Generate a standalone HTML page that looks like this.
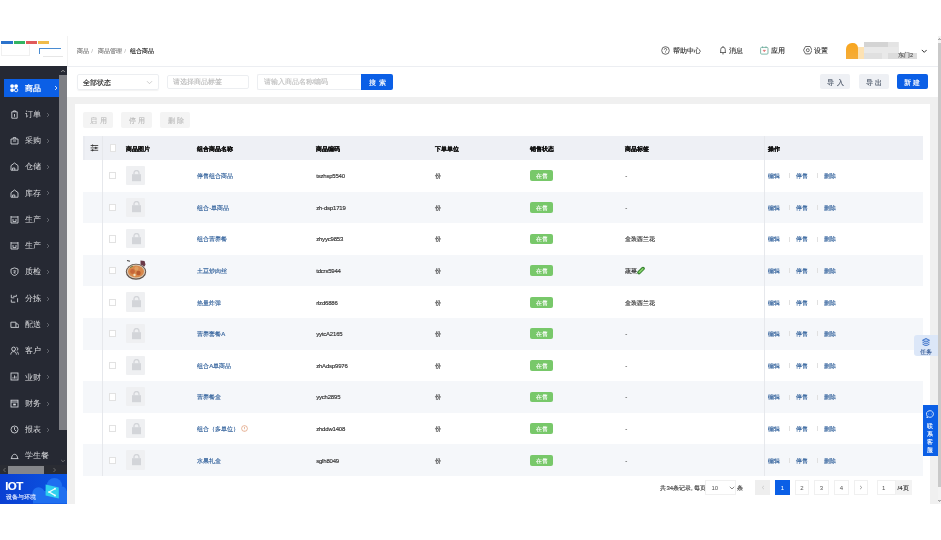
<!DOCTYPE html><html><head><meta charset="utf-8"><style>
*{box-sizing:border-box;margin:0;padding:0}
html,body{width:941px;height:540px;overflow:hidden;background:#fff;font-family:"Liberation Sans",sans-serif;}
.a{position:absolute}
svg{display:block}
.t{position:absolute;white-space:nowrap;line-height:1;-webkit-text-stroke-width:0.15px}
</style></head><body><div id="w" style="position:absolute;left:0;top:0;width:941px;height:540px;will-change:transform">
<div class="a" style="left:938.00px;top:36.00px;width:3.00px;height:468.00px;background:#f3f3f3;"></div>
<div class="a" style="left:938.20px;top:43.30px;width:2.80px;height:443.40px;background:#c9c9c9;"></div>
<svg class="a" style="left:938.00px;top:37.00px;" width="3" height="4" viewBox="0 0 3 4"><path d="M.4 3L1.5 1.6 2.6 3" fill="none" stroke="#555" stroke-width="0.7"/></svg>
<svg class="a" style="left:938.00px;top:499.00px;" width="3" height="4" viewBox="0 0 3 4"><path d="M.4 1L1.5 2.4 2.6 1" fill="none" stroke="#555" stroke-width="0.7"/></svg>
<div class="a" style="left:1.00px;top:41.00px;width:12.00px;height:3.00px;background:#2a72cc;filter:blur(.25px)"></div>
<div class="a" style="left:13.50px;top:41.00px;width:11.50px;height:3.00px;background:#33b463;filter:blur(.25px)"></div>
<div class="a" style="left:26.00px;top:41.00px;width:11.00px;height:3.00px;background:#e05a5a;filter:blur(.25px)"></div>
<div class="a" style="left:38.00px;top:41.00px;width:11.00px;height:3.00px;background:#f0bb4a;filter:blur(.25px)"></div>
<div class="a" style="left:39.00px;top:48.00px;width:22.00px;height:1.40px;background:#4a8cd2;filter:blur(.25px)"></div>
<div class="a" style="left:39.00px;top:48.00px;width:1.00px;height:6.00px;background:#4a8cd2;filter:blur(.25px)"></div>
<div class="a" style="left:43.00px;top:55.50px;width:20.00px;height:0.60px;background:#e6e6e6;"></div>
<div class="a" style="left:1px;top:45px;width:29px;height:10.5px;border:0.6px solid #f0f0f0;border-top:none"></div>
<div class="a" style="left:67.00px;top:36.00px;width:1.00px;height:30.00px;background:#f2f2f2;"></div>
<div class="a" style="left:67.00px;top:66.00px;width:871.00px;height:1.00px;background:#eceef2;"></div>
<div class="t" style="left:77.10px;top:48.48px;font-size:6px;color:#7a7a7a;">商品</div>
<div class="t" style="left:91.20px;top:48.48px;font-size:6px;color:#c0c0c0;">/</div>
<div class="t" style="left:97.70px;top:48.48px;font-size:6px;color:#7a7a7a;">商品管理</div>
<div class="t" style="left:124.20px;top:48.48px;font-size:6px;color:#c0c0c0;">/</div>
<div class="t" style="left:130.30px;top:48.48px;font-size:6px;color:#222;">组合商品</div>
<svg class="a" style="left:660.50px;top:45.60px;" width="9" height="9" viewBox="0 0 9 9"><circle cx="4.5" cy="4.5" r="3.8" fill="none" stroke="#444" stroke-width="0.8"/><path d="M3.3 3.6a1.2 1.2 0 1 1 1.7 1.1c-.4.2-.5.4-.5.8" fill="none" stroke="#444" stroke-width="0.8"/><circle cx="4.5" cy="6.6" r="0.45" fill="#444"/></svg>
<div class="t" style="left:673.00px;top:47.46px;font-size:7px;color:#2a2a2a;-webkit-text-stroke-width:0.12px">帮助中心</div>
<svg class="a" style="left:719.00px;top:44.60px;" width="8" height="10" viewBox="0 0 8 10"><path d="M1 7.5h6M1.7 7.5V4.5a2.3 2.3 0 0 1 4.6 0v3M4 1v1M3.2 8.8h1.6" fill="none" stroke="#444" stroke-width="0.8"/></svg>
<div class="t" style="left:729.00px;top:47.46px;font-size:7px;color:#2a2a2a;-webkit-text-stroke-width:0.12px">消息</div>
<svg class="a" style="left:760.40px;top:46.30px;" width="8.6" height="8.6" viewBox="0 0 8.6 8.6"><rect x=".6" y="1.4" width="7.4" height="6.7" rx="1" fill="none" stroke="#6aab9a" stroke-width="0.85"/><path d="M2.6 .3v1.8M6 .3v1.8" stroke="#6aab9a" stroke-width="0.8"/><path d="M3 4.2h2.6L4.3 5.8z" fill="#e06a6a" stroke="#e06a6a" stroke-width="0.5"/></svg>
<div class="t" style="left:771.20px;top:47.46px;font-size:7px;color:#2a2a2a;-webkit-text-stroke-width:0.12px">应用</div>
<svg class="a" style="left:802.80px;top:46.40px;" width="9.6" height="8.4" viewBox="0 0 9.6 8.4"><path d="M2.5 .5h4.6l2 3.7-2 3.7H2.5l-2-3.7z" fill="none" stroke="#444" stroke-width="0.8" stroke-linejoin="round"/><circle cx="4.8" cy="4.2" r="1.5" fill="none" stroke="#444" stroke-width="0.8"/></svg>
<div class="t" style="left:814.00px;top:47.46px;font-size:7px;color:#2a2a2a;-webkit-text-stroke-width:0.12px">设置</div>
<div class="a" style="left:864.00px;top:42.30px;width:35.00px;height:16.30px;background:#e9e9e9;filter:blur(.4px)"></div>
<div class="a" style="left:864.00px;top:42.30px;width:24.00px;height:4.80px;background:#d4d4d4;filter:blur(.4px)"></div>
<div class="a" style="left:887.80px;top:42.30px;width:10.60px;height:4.80px;background:#e4e4e4;filter:blur(.4px)"></div>
<div class="a" style="left:864.00px;top:52.50px;width:18.00px;height:6.00px;background:#e0e0e0;filter:blur(.4px)"></div>
<div class="a" style="left:887.80px;top:52.80px;width:29.70px;height:5.80px;background:#dcdcdc;filter:blur(.5px)"></div>
<div class="a" style="left:845.70px;top:42.80px;width:12.50px;height:15.80px;background:linear-gradient(#f8a51e,#f5ad3a);border-radius:6px 5px 0 0;filter:blur(.35px)"></div>
<div class="a" style="left:858.20px;top:47.00px;width:6.00px;height:11.60px;background:#fde2b3;filter:blur(.4px)"></div>
<div class="t" style="left:898.00px;top:53.29px;font-size:5.5px;color:#555;">东门2</div>
<svg class="a" style="left:920.50px;top:48.50px;" width="6.5" height="4.5" viewBox="0 0 6.5 4.5"><path d="M.8 .9l2.45 2.45L5.7 .9" fill="none" stroke="#333" stroke-width="1"/></svg>
<div class="a" style="left:0.00px;top:66.00px;width:67.00px;height:408.00px;background:#262933;"></div>
<div class="a" style="left:59.00px;top:75.00px;width:8.00px;height:354.50px;background:#7e7f84;"></div>
<svg class="a" style="left:59.00px;top:66.50px;" width="8" height="8" viewBox="0 0 8 8"><path d="M2.2 5l1.8-1.8L5.8 5" fill="none" stroke="#a0a0a0" stroke-width="0.9"/></svg>
<svg class="a" style="left:59.00px;top:457.00px;" width="8" height="8" viewBox="0 0 8 8"><path d="M2.2 3l1.8 1.8L5.8 3" fill="none" stroke="#777" stroke-width="0.9"/></svg>
<div class="a" style="left:4.00px;top:79.40px;width:55.00px;height:17.30px;background:#0b5fe6;"></div>
<svg class="a" style="left:10.30px;top:84.00px;" width="9" height="9" viewBox="0 0 9 9"><circle cx="2.1" cy="2.1" r="1.9" fill="#fff"/><circle cx="6.1" cy="2.1" r="1.9" fill="#fff"/><circle cx="2.1" cy="6.1" r="1.9" fill="#fff"/><circle cx="6.1" cy="6.1" r="1.7" fill="none" stroke="#fff" stroke-width="0.9"/></svg>
<div class="t" style="left:24.60px;top:85.02px;font-size:7.8px;color:#fff;font-weight:bold;-webkit-text-stroke-width:0">商品</div>
<svg class="a" style="left:54.00px;top:85.30px;" width="4" height="6" viewBox="0 0 4 6"><path d="M1 1l2 2-2 2" fill="none" stroke="#fff" stroke-width="0.8"/></svg>
<svg class="a" style="left:9.80px;top:109.68px;" width="9" height="9" viewBox="0 0 9 9"><path d="M1.8 1.8h5.4v6.4H1.8z" fill="none" stroke="#d9dbe0" stroke-width="0.85"/><path d="M3.4 1.8V.9h2.2v.9M4.5 4v2.8" stroke="#d9dbe0" stroke-width="0.85" fill="none"/></svg>
<div class="t" style="left:24.60px;top:110.70px;font-size:7.8px;color:#dcdde0;-webkit-text-stroke-width:0">订单</div>
<svg class="a" style="left:46.30px;top:111.58px;" width="4" height="6" viewBox="0 0 4 6"><path d="M1 1l2 2-2 2" fill="none" stroke="#6f7178" stroke-width="0.8"/></svg>
<svg class="a" style="left:9.80px;top:135.96px;" width="9" height="9" viewBox="0 0 9 9"><path d="M1 3h7v5H1z" fill="none" stroke="#d9dbe0" stroke-width="0.85"/><path d="M3 5h3M3.2 3V1.6h2.6V3" fill="none" stroke="#d9dbe0" stroke-width="0.85"/></svg>
<div class="t" style="left:24.60px;top:136.98px;font-size:7.8px;color:#dcdde0;-webkit-text-stroke-width:0">采购</div>
<svg class="a" style="left:46.30px;top:137.86px;" width="4" height="6" viewBox="0 0 4 6"><path d="M1 1l2 2-2 2" fill="none" stroke="#6f7178" stroke-width="0.8"/></svg>
<svg class="a" style="left:9.80px;top:162.24px;" width="9" height="9" viewBox="0 0 9 9"><path d="M1 8.2V3.6L4.5 1 8 3.6v4.6z" fill="none" stroke="#d9dbe0" stroke-width="0.85"/><path d="M2.6 8.2V6h2.2v2.2" stroke="#d9dbe0" stroke-width="0.85" fill="none"/></svg>
<div class="t" style="left:24.60px;top:163.26px;font-size:7.8px;color:#dcdde0;-webkit-text-stroke-width:0">仓储</div>
<svg class="a" style="left:46.30px;top:164.14px;" width="4" height="6" viewBox="0 0 4 6"><path d="M1 1l2 2-2 2" fill="none" stroke="#6f7178" stroke-width="0.8"/></svg>
<svg class="a" style="left:9.80px;top:188.52px;" width="9" height="9" viewBox="0 0 9 9"><path d="M1 8.2V3.6L4.5 1 8 3.6v4.6z" fill="none" stroke="#d9dbe0" stroke-width="0.85"/><path d="M2.6 8.2V6h2.2v2.2" stroke="#d9dbe0" stroke-width="0.85" fill="none"/></svg>
<div class="t" style="left:24.60px;top:189.54px;font-size:7.8px;color:#dcdde0;-webkit-text-stroke-width:0">库存</div>
<svg class="a" style="left:46.30px;top:190.42px;" width="4" height="6" viewBox="0 0 4 6"><path d="M1 1l2 2-2 2" fill="none" stroke="#6f7178" stroke-width="0.8"/></svg>
<svg class="a" style="left:9.80px;top:214.80px;" width="9" height="9" viewBox="0 0 9 9"><path d="M1 8V2h7v6z" fill="none" stroke="#d9dbe0" stroke-width="0.85"/><path d="M3 4v2.6h3V4M1 2V1M8 2V1" stroke="#d9dbe0" stroke-width="0.85" fill="none"/></svg>
<div class="t" style="left:24.60px;top:215.82px;font-size:7.8px;color:#dcdde0;-webkit-text-stroke-width:0">生产</div>
<svg class="a" style="left:46.30px;top:216.70px;" width="4" height="6" viewBox="0 0 4 6"><path d="M1 1l2 2-2 2" fill="none" stroke="#6f7178" stroke-width="0.8"/></svg>
<svg class="a" style="left:9.80px;top:241.08px;" width="9" height="9" viewBox="0 0 9 9"><path d="M1 8V2h7v6z" fill="none" stroke="#d9dbe0" stroke-width="0.85"/><path d="M3 4v2.6h3V4M1 2V1M8 2V1" stroke="#d9dbe0" stroke-width="0.85" fill="none"/></svg>
<div class="t" style="left:24.60px;top:242.10px;font-size:7.8px;color:#dcdde0;-webkit-text-stroke-width:0">生产</div>
<svg class="a" style="left:46.30px;top:242.98px;" width="4" height="6" viewBox="0 0 4 6"><path d="M1 1l2 2-2 2" fill="none" stroke="#6f7178" stroke-width="0.8"/></svg>
<svg class="a" style="left:9.80px;top:267.36px;" width="9" height="9" viewBox="0 0 9 9"><path d="M4.5 .9L8 2.1V5c0 2-1.7 3-3.5 3.6C2.7 8 1 7 1 5V2.1z" fill="none" stroke="#d9dbe0" stroke-width="0.85"/><path d="M3.4 3.8h2.2L3.8 6h1.9" stroke="#d9dbe0" stroke-width="0.8" fill="none"/></svg>
<div class="t" style="left:24.60px;top:268.38px;font-size:7.8px;color:#dcdde0;-webkit-text-stroke-width:0">质检</div>
<svg class="a" style="left:46.30px;top:269.26px;" width="4" height="6" viewBox="0 0 4 6"><path d="M1 1l2 2-2 2" fill="none" stroke="#6f7178" stroke-width="0.8"/></svg>
<svg class="a" style="left:9.80px;top:293.64px;" width="9" height="9" viewBox="0 0 9 9"><path d="M1.3 .8v3h3M3.2 2.3h3.2V.8M1.3 5.6v2.6h4M7.6 4.2v4" fill="none" stroke="#d9dbe0" stroke-width="0.85"/></svg>
<div class="t" style="left:24.60px;top:294.66px;font-size:7.8px;color:#dcdde0;-webkit-text-stroke-width:0">分拣</div>
<svg class="a" style="left:46.30px;top:295.54px;" width="4" height="6" viewBox="0 0 4 6"><path d="M1 1l2 2-2 2" fill="none" stroke="#6f7178" stroke-width="0.8"/></svg>
<svg class="a" style="left:9.80px;top:319.92px;" width="9" height="9" viewBox="0 0 9 9"><path d="M.9 2.2h5v5.2h-5z M5.9 3.8h1.6l1.2 1.5v2.1H5.9" fill="none" stroke="#d9dbe0" stroke-width="0.85"/></svg>
<div class="t" style="left:24.60px;top:320.94px;font-size:7.8px;color:#dcdde0;-webkit-text-stroke-width:0">配送</div>
<svg class="a" style="left:46.30px;top:321.82px;" width="4" height="6" viewBox="0 0 4 6"><path d="M1 1l2 2-2 2" fill="none" stroke="#6f7178" stroke-width="0.8"/></svg>
<svg class="a" style="left:9.80px;top:346.20px;" width="9" height="9" viewBox="0 0 9 9"><circle cx="3.6" cy="3" r="1.9" fill="none" stroke="#d9dbe0" stroke-width="0.85"/><path d="M.8 8.6c0-2 1.2-3 2.8-3s2.8 1 2.8 3M6.4 1.3a1.7 1.7 0 0 1 .3 3.3M7 5.8c1 .4 1.4 1.3 1.4 2.8" fill="none" stroke="#d9dbe0" stroke-width="0.85"/></svg>
<div class="t" style="left:24.60px;top:347.22px;font-size:7.8px;color:#dcdde0;-webkit-text-stroke-width:0">客户</div>
<svg class="a" style="left:46.30px;top:348.10px;" width="4" height="6" viewBox="0 0 4 6"><path d="M1 1l2 2-2 2" fill="none" stroke="#6f7178" stroke-width="0.8"/></svg>
<svg class="a" style="left:9.80px;top:372.48px;" width="9" height="9" viewBox="0 0 9 9"><rect x="1" y="1" width="7" height="7" fill="none" stroke="#d9dbe0" stroke-width="0.85"/><path d="M3 6.6V5.2M4.5 6.6V3.4M6 6.6V4.4" stroke="#d9dbe0" stroke-width="0.85"/></svg>
<div class="t" style="left:24.60px;top:373.50px;font-size:7.8px;color:#dcdde0;-webkit-text-stroke-width:0">业财</div>
<svg class="a" style="left:46.30px;top:374.38px;" width="4" height="6" viewBox="0 0 4 6"><path d="M1 1l2 2-2 2" fill="none" stroke="#6f7178" stroke-width="0.8"/></svg>
<svg class="a" style="left:9.80px;top:398.76px;" width="9" height="9" viewBox="0 0 9 9"><rect x="1" y="1.2" width="7" height="6.8" fill="none" stroke="#d9dbe0" stroke-width="0.85"/><path d="M1 3h7" stroke="#d9dbe0" stroke-width="0.85"/><rect x="3.2" y="4.6" width="2.6" height="1.8" fill="#d9dbe0"/></svg>
<div class="t" style="left:24.60px;top:399.78px;font-size:7.8px;color:#dcdde0;-webkit-text-stroke-width:0">财务</div>
<svg class="a" style="left:46.30px;top:400.66px;" width="4" height="6" viewBox="0 0 4 6"><path d="M1 1l2 2-2 2" fill="none" stroke="#6f7178" stroke-width="0.8"/></svg>
<svg class="a" style="left:9.80px;top:425.04px;" width="9" height="9" viewBox="0 0 9 9"><circle cx="4.5" cy="4.5" r="3.5" fill="none" stroke="#d9dbe0" stroke-width="0.85"/><path d="M4.5 2.2v2.3l1.8 1.8" stroke="#d9dbe0" stroke-width="0.85" fill="none"/></svg>
<div class="t" style="left:24.60px;top:426.06px;font-size:7.8px;color:#dcdde0;-webkit-text-stroke-width:0">报表</div>
<svg class="a" style="left:46.30px;top:426.94px;" width="4" height="6" viewBox="0 0 4 6"><path d="M1 1l2 2-2 2" fill="none" stroke="#6f7178" stroke-width="0.8"/></svg>
<svg class="a" style="left:9.80px;top:451.32px;" width="9" height="9" viewBox="0 0 9 9"><path d="M.8 7.6h7.6M1.6 7.6c0-2.6 1.2-4.3 3-4.3s3 1.7 3 4.3" fill="none" stroke="#d9dbe0" stroke-width="0.85"/></svg>
<div class="t" style="left:24.60px;top:452.34px;font-size:7.8px;color:#dcdde0;-webkit-text-stroke-width:0">学生餐</div>
<div class="a" style="left:0.00px;top:465.00px;width:67.00px;height:9.00px;background:#2a2c33;"></div>
<div class="a" style="left:8.00px;top:465.50px;width:36.00px;height:8.50px;background:#85868a;"></div>
<svg class="a" style="left:2.00px;top:467.00px;" width="5" height="6" viewBox="0 0 5 6"><path d="M3.5 1L1.5 3l2 2" fill="none" stroke="#777" stroke-width="0.8"/></svg>
<svg class="a" style="left:52.00px;top:467.00px;" width="5" height="6" viewBox="0 0 5 6"><path d="M1.5 1l2 2-2 2" fill="none" stroke="#777" stroke-width="0.8"/></svg>
<div class="a" style="left:0.00px;top:474.00px;width:67.00px;height:30.00px;background:linear-gradient(90deg,#0a3fd2,#0b55e2);"></div>
<svg class="a" style="left:28.00px;top:472.00px;" width="39" height="32" viewBox="0 0 39 32"><circle cx="26.4" cy="13.5" r="7.6" fill="#1f6ff0"/><circle cx="10.5" cy="21.5" r="6.2" fill="#1f6ff0"/><circle cx="34" cy="19" r="4.5" fill="#1f6ff0"/><rect x="5" y="19" width="34" height="12.5" fill="#1f6ff0"/><path d="M17.6 12.6L30.8 15.6V26.6L17.6 23.4z" fill="#2fd0ee"/><path d="M27 16.8L21.2 20l5.8 3.4" fill="none" stroke="#e8fbff" stroke-width="1.3"/><circle cx="27" cy="16.8" r="1" fill="#e8fbff"/><circle cx="21.2" cy="20" r="1" fill="#e8fbff"/><circle cx="27" cy="23.4" r="1" fill="#e8fbff"/></svg>
<div class="t" style="left:5.20px;top:480.77px;font-size:11.5px;color:#fff;font-weight:bold;letter-spacing:-0.6px">IOT</div>
<div class="t" style="left:5.80px;top:494.48px;font-size:6px;color:#dfe8ff;">设备与环境</div>
<div class="a" style="left:77px;top:73.5px;width:81.5px;height:16px;border:1px solid #eceef1;border-radius:2px;box-shadow:0 1px 1px rgba(0,0,0,.05)"></div>
<div class="t" style="left:83.00px;top:78.56px;font-size:7px;color:#222;">全部状态</div>
<svg class="a" style="left:146.00px;top:79.50px;" width="7" height="5" viewBox="0 0 7 5"><path d="M1 1.2l2.5 2.5L6 1.2" fill="none" stroke="#c0c0c0" stroke-width="0.8"/></svg>
<div class="a" style="left:167.4px;top:74.6px;width:81.3px;height:14.8px;border:1px solid #eceef1;border-radius:2px"></div>
<div class="t" style="left:173.30px;top:79.14px;font-size:6.8px;color:#bcbcbc;">请选择商品标签</div>
<div class="a" style="left:257.2px;top:74.1px;width:104px;height:15.6px;border:1px solid #eceef1;border-right:none;border-radius:2px 0 0 2px"></div>
<div class="t" style="left:263.60px;top:79.14px;font-size:6.8px;color:#c2c2c2;">请输入商品名称/编码</div>
<div class="a" style="left:361.00px;top:74.10px;width:31.70px;height:15.60px;background:#0b5fe6;border-radius:0 2px 2px 0"></div>
<div class="t" style="left:368.80px;top:79.06px;font-size:7px;color:#fff;letter-spacing:3px">搜索</div>
<div class="a" style="left:820.20px;top:74.00px;width:30.00px;height:15.00px;background:#eef0f4;border-radius:2px"></div>
<div class="t" style="left:827.00px;top:78.56px;font-size:7px;color:#4a5566;letter-spacing:2.5px">导入</div>
<div class="a" style="left:858.50px;top:74.00px;width:30.30px;height:15.00px;background:#eef0f4;border-radius:2px"></div>
<div class="t" style="left:865.50px;top:78.56px;font-size:7px;color:#4a5566;letter-spacing:2.5px">导出</div>
<div class="a" style="left:896.70px;top:74.00px;width:31.50px;height:15.40px;background:#0b5fe6;border-radius:2px"></div>
<div class="t" style="left:903.50px;top:78.56px;font-size:7px;color:#fff;letter-spacing:2.5px">新建</div>
<div class="a" style="left:67.00px;top:97.00px;width:871.00px;height:407.00px;background:#f0f0f0;"></div>
<div class="a" style="left:75.00px;top:104.00px;width:855.00px;height:400.00px;background:#fff;"></div>
<div class="a" style="left:82.60px;top:111.70px;width:30.40px;height:16.00px;background:#f4f4f4;border-radius:2px"></div>
<div class="t" style="left:90.10px;top:116.76px;font-size:7px;color:#bdbdbd;letter-spacing:2.5px">启用</div>
<div class="a" style="left:121.30px;top:111.70px;width:30.40px;height:16.00px;background:#f4f4f4;border-radius:2px"></div>
<div class="t" style="left:128.80px;top:116.76px;font-size:7px;color:#bdbdbd;letter-spacing:2.5px">停用</div>
<div class="a" style="left:160.00px;top:111.70px;width:30.40px;height:16.00px;background:#f4f4f4;border-radius:2px"></div>
<div class="t" style="left:167.50px;top:116.76px;font-size:7px;color:#bdbdbd;letter-spacing:2.5px">删除</div>
<div class="a" style="left:82.70px;top:135.50px;width:840.00px;height:24.50px;background:#eef0f5;"></div>
<div class="a" style="left:82.70px;top:135.50px;width:2.80px;height:340.50px;background:rgba(0,0,0,0.015);"></div>
<svg class="a" style="left:89.50px;top:143.00px;" width="9" height="9" viewBox="0 0 9 9"><path d="M.6 2.5h7.6M.6 4.9h7.6M.6 7.3h7.6" stroke="#3a3a3a" stroke-width="0.85"/><path d="M2.6 1.2l1.2 1.3-1.2 1.3-1.2-1.3z M5.8 3.6L7 4.9 5.8 6.2 4.6 4.9z M2.6 6l1.2 1.3-1.2 1.3-1.2-1.3z" fill="#3a3a3a"/></svg>
<div class="a" style="left:109.50px;top:144.30px;width:6.20px;height:7.30px;background:#fff;border:0.5px solid #e3e3e3"></div>
<div class="t" style="left:125.90px;top:145.78px;font-size:6px;color:#111;font-weight:bold;-webkit-text-stroke-width:0.2px">商品图片</div>
<div class="t" style="left:197.30px;top:145.78px;font-size:6px;color:#111;font-weight:bold;-webkit-text-stroke-width:0.2px">组合商品名称</div>
<div class="t" style="left:316.20px;top:145.78px;font-size:6px;color:#111;font-weight:bold;-webkit-text-stroke-width:0.2px">商品编码</div>
<div class="t" style="left:435.20px;top:145.78px;font-size:6px;color:#111;font-weight:bold;-webkit-text-stroke-width:0.2px">下单单位</div>
<div class="t" style="left:530.30px;top:145.78px;font-size:6px;color:#111;font-weight:bold;-webkit-text-stroke-width:0.2px">销售状态</div>
<div class="t" style="left:625.00px;top:145.78px;font-size:6px;color:#111;font-weight:bold;-webkit-text-stroke-width:0.2px">商品标签</div>
<div class="t" style="left:767.80px;top:145.78px;font-size:6px;color:#111;font-weight:bold;-webkit-text-stroke-width:0.2px">操作</div>
<div class="a" style="left:82.70px;top:160.00px;width:840.00px;height:31.60px;background:#ffffff;"></div>
<div class="a" style="left:109.30px;top:172.20px;width:6.60px;height:7.20px;background:#fff;border:0.6px solid #e2e2e2"></div>
<div class="a" style="left:126.20px;top:166.00px;width:19.30px;height:19.30px;background:#eff0f2;border-radius:1px"></div>
<svg class="a" style="left:130.50px;top:169.80px;" width="11" height="12" viewBox="0 0 11 12"><path d="M3 4.4V3a2.5 2.5 0 0 1 5 0v1.4" fill="none" stroke="#d3d5d9" stroke-width="1.3"/><rect x="1" y="4.2" width="9" height="7" fill="#d3d5d9"/></svg>
<div class="t" style="left:197.30px;top:173.28px;font-size:6px;color:#33629c;">停售组合商品</div>
<div class="t" style="left:316.20px;top:173.28px;font-size:6px;color:#333;letter-spacing:-0.2px">tszhsp5540</div>
<div class="t" style="left:435.40px;top:173.28px;font-size:6px;color:#444;">份</div>
<div class="a" style="left:530.30px;top:170.40px;width:22.40px;height:10.90px;background:#78c86a;border-radius:2px"></div>
<div class="t" style="left:535.50px;top:173.28px;font-size:6px;color:#fff;-webkit-text-stroke-width:0.12px">在售</div>
<div class="t" style="left:625.30px;top:173.28px;font-size:6px;color:#333;">-</div>
<div class="t" style="left:767.80px;top:173.28px;font-size:6px;color:#33629c;">编辑</div>
<div class="a" style="left:788.50px;top:173.30px;width:0.60px;height:5.00px;background:#e0e0e0;"></div>
<div class="t" style="left:796.20px;top:173.28px;font-size:6px;color:#33629c;">停售</div>
<div class="a" style="left:816.50px;top:173.30px;width:0.60px;height:5.00px;background:#e0e0e0;"></div>
<div class="t" style="left:824.40px;top:173.28px;font-size:6px;color:#33629c;">删除</div>
<div class="a" style="left:82.70px;top:191.60px;width:840.00px;height:31.60px;background:#f5f7fa;"></div>
<div class="a" style="left:109.30px;top:203.80px;width:6.60px;height:7.20px;background:#fff;border:0.6px solid #e2e2e2"></div>
<div class="a" style="left:126.20px;top:197.60px;width:19.30px;height:19.30px;background:#eff0f2;border-radius:1px"></div>
<svg class="a" style="left:130.50px;top:201.40px;" width="11" height="12" viewBox="0 0 11 12"><path d="M3 4.4V3a2.5 2.5 0 0 1 5 0v1.4" fill="none" stroke="#d3d5d9" stroke-width="1.3"/><rect x="1" y="4.2" width="9" height="7" fill="#d3d5d9"/></svg>
<div class="t" style="left:197.30px;top:204.88px;font-size:6px;color:#33629c;">组合-单商品</div>
<div class="t" style="left:316.20px;top:204.88px;font-size:6px;color:#333;letter-spacing:-0.2px">zh-dsp1719</div>
<div class="t" style="left:435.40px;top:204.88px;font-size:6px;color:#444;">份</div>
<div class="a" style="left:530.30px;top:202.00px;width:22.40px;height:10.90px;background:#78c86a;border-radius:2px"></div>
<div class="t" style="left:535.50px;top:204.88px;font-size:6px;color:#fff;-webkit-text-stroke-width:0.12px">在售</div>
<div class="t" style="left:625.30px;top:204.88px;font-size:6px;color:#333;">-</div>
<div class="t" style="left:767.80px;top:204.88px;font-size:6px;color:#33629c;">编辑</div>
<div class="a" style="left:788.50px;top:204.90px;width:0.60px;height:5.00px;background:#e0e0e0;"></div>
<div class="t" style="left:796.20px;top:204.88px;font-size:6px;color:#33629c;">停售</div>
<div class="a" style="left:816.50px;top:204.90px;width:0.60px;height:5.00px;background:#e0e0e0;"></div>
<div class="t" style="left:824.40px;top:204.88px;font-size:6px;color:#33629c;">删除</div>
<div class="a" style="left:82.70px;top:223.20px;width:840.00px;height:31.60px;background:#ffffff;"></div>
<div class="a" style="left:109.30px;top:235.40px;width:6.60px;height:7.20px;background:#fff;border:0.6px solid #e2e2e2"></div>
<div class="a" style="left:126.20px;top:229.20px;width:19.30px;height:19.30px;background:#eff0f2;border-radius:1px"></div>
<svg class="a" style="left:130.50px;top:233.00px;" width="11" height="12" viewBox="0 0 11 12"><path d="M3 4.4V3a2.5 2.5 0 0 1 5 0v1.4" fill="none" stroke="#d3d5d9" stroke-width="1.3"/><rect x="1" y="4.2" width="9" height="7" fill="#d3d5d9"/></svg>
<div class="t" style="left:197.30px;top:236.48px;font-size:6px;color:#33629c;">组合营养餐</div>
<div class="t" style="left:316.20px;top:236.48px;font-size:6px;color:#333;letter-spacing:-0.2px">zhyyc9853</div>
<div class="t" style="left:435.40px;top:236.48px;font-size:6px;color:#444;">份</div>
<div class="a" style="left:530.30px;top:233.60px;width:22.40px;height:10.90px;background:#78c86a;border-radius:2px"></div>
<div class="t" style="left:535.50px;top:236.48px;font-size:6px;color:#fff;-webkit-text-stroke-width:0.12px">在售</div>
<div class="t" style="left:625.30px;top:236.48px;font-size:6px;color:#333;">盒装西兰花</div>
<div class="t" style="left:767.80px;top:236.48px;font-size:6px;color:#33629c;">编辑</div>
<div class="a" style="left:788.50px;top:236.50px;width:0.60px;height:5.00px;background:#e0e0e0;"></div>
<div class="t" style="left:796.20px;top:236.48px;font-size:6px;color:#33629c;">停售</div>
<div class="a" style="left:816.50px;top:236.50px;width:0.60px;height:5.00px;background:#e0e0e0;"></div>
<div class="t" style="left:824.40px;top:236.48px;font-size:6px;color:#33629c;">删除</div>
<div class="a" style="left:82.70px;top:254.80px;width:840.00px;height:31.60px;background:#f5f7fa;"></div>
<div class="a" style="left:109.30px;top:267.00px;width:6.60px;height:7.20px;background:#fff;border:0.6px solid #e2e2e2"></div>
<svg class="a" style="left:124.00px;top:257.60px;filter:blur(0.35px)" width="24" height="24" viewBox="0 0 24 24"><path d="M3 2.5l3 .8" stroke="#444" stroke-width="1.1"/><path d="M16.5 2.5l4 .5 1 3.5-1 2-4-2z" fill="#6a3a48"/><ellipse cx="12" cy="13.8" rx="10.2" ry="8" fill="#5e5048"/><ellipse cx="12" cy="13.6" rx="9.2" ry="7" fill="#d9c9b5"/><ellipse cx="12" cy="13.4" rx="8" ry="6" fill="#d8894c"/><circle cx="8.5" cy="13.5" r="2.4" fill="#c7683a"/><circle cx="14.5" cy="15" r="2.2" fill="#b95b30"/><circle cx="12.5" cy="10.5" r="2" fill="#e0a060"/><circle cx="10.5" cy="17" r="1.2" fill="#f0e0c0"/><path d="M6 9.5l3 -1.5" stroke="#4a7a3a" stroke-width="0.8"/></svg>
<div class="t" style="left:197.30px;top:268.08px;font-size:6px;color:#33629c;">土豆炒肉丝</div>
<div class="t" style="left:316.20px;top:268.08px;font-size:6px;color:#333;letter-spacing:-0.2px">tdcrs5944</div>
<div class="t" style="left:435.40px;top:268.08px;font-size:6px;color:#444;">份</div>
<div class="a" style="left:530.30px;top:265.20px;width:22.40px;height:10.90px;background:#78c86a;border-radius:2px"></div>
<div class="t" style="left:535.50px;top:268.08px;font-size:6px;color:#fff;-webkit-text-stroke-width:0.12px">在售</div>
<div class="t" style="left:625.30px;top:268.08px;font-size:6px;color:#333;">蔬菜</div>
<svg class="a" style="left:637.20px;top:266.40px;filter:blur(0.25px)" width="8.5" height="8.5" viewBox="0 0 8.5 8.5"><path d="M2 6.6L6 2.6" stroke="#2f7d2a" stroke-width="3.6" stroke-linecap="round"/><path d="M2.2 6.4L5.8 2.8" stroke="#86d06a" stroke-width="1.8" stroke-linecap="round"/></svg>
<div class="t" style="left:767.80px;top:268.08px;font-size:6px;color:#33629c;">编辑</div>
<div class="a" style="left:788.50px;top:268.10px;width:0.60px;height:5.00px;background:#e0e0e0;"></div>
<div class="t" style="left:796.20px;top:268.08px;font-size:6px;color:#33629c;">停售</div>
<div class="a" style="left:816.50px;top:268.10px;width:0.60px;height:5.00px;background:#e0e0e0;"></div>
<div class="t" style="left:824.40px;top:268.08px;font-size:6px;color:#33629c;">删除</div>
<div class="a" style="left:82.70px;top:286.40px;width:840.00px;height:31.60px;background:#ffffff;"></div>
<div class="a" style="left:109.30px;top:298.60px;width:6.60px;height:7.20px;background:#fff;border:0.6px solid #e2e2e2"></div>
<div class="a" style="left:126.20px;top:292.40px;width:19.30px;height:19.30px;background:#eff0f2;border-radius:1px"></div>
<svg class="a" style="left:130.50px;top:296.20px;" width="11" height="12" viewBox="0 0 11 12"><path d="M3 4.4V3a2.5 2.5 0 0 1 5 0v1.4" fill="none" stroke="#d3d5d9" stroke-width="1.3"/><rect x="1" y="4.2" width="9" height="7" fill="#d3d5d9"/></svg>
<div class="t" style="left:197.30px;top:299.68px;font-size:6px;color:#33629c;">热量炸弹</div>
<div class="t" style="left:316.20px;top:299.68px;font-size:6px;color:#333;letter-spacing:-0.2px">rlzd6886</div>
<div class="t" style="left:435.40px;top:299.68px;font-size:6px;color:#444;">份</div>
<div class="a" style="left:530.30px;top:296.80px;width:22.40px;height:10.90px;background:#78c86a;border-radius:2px"></div>
<div class="t" style="left:535.50px;top:299.68px;font-size:6px;color:#fff;-webkit-text-stroke-width:0.12px">在售</div>
<div class="t" style="left:625.30px;top:299.68px;font-size:6px;color:#333;">盒装西兰花</div>
<div class="t" style="left:767.80px;top:299.68px;font-size:6px;color:#33629c;">编辑</div>
<div class="a" style="left:788.50px;top:299.70px;width:0.60px;height:5.00px;background:#e0e0e0;"></div>
<div class="t" style="left:796.20px;top:299.68px;font-size:6px;color:#33629c;">停售</div>
<div class="a" style="left:816.50px;top:299.70px;width:0.60px;height:5.00px;background:#e0e0e0;"></div>
<div class="t" style="left:824.40px;top:299.68px;font-size:6px;color:#33629c;">删除</div>
<div class="a" style="left:82.70px;top:318.00px;width:840.00px;height:31.60px;background:#f5f7fa;"></div>
<div class="a" style="left:109.30px;top:330.20px;width:6.60px;height:7.20px;background:#fff;border:0.6px solid #e2e2e2"></div>
<div class="a" style="left:126.20px;top:324.00px;width:19.30px;height:19.30px;background:#eff0f2;border-radius:1px"></div>
<svg class="a" style="left:130.50px;top:327.80px;" width="11" height="12" viewBox="0 0 11 12"><path d="M3 4.4V3a2.5 2.5 0 0 1 5 0v1.4" fill="none" stroke="#d3d5d9" stroke-width="1.3"/><rect x="1" y="4.2" width="9" height="7" fill="#d3d5d9"/></svg>
<div class="t" style="left:197.30px;top:331.28px;font-size:6px;color:#33629c;">营养套餐A</div>
<div class="t" style="left:316.20px;top:331.28px;font-size:6px;color:#333;letter-spacing:-0.2px">yytcA2165</div>
<div class="t" style="left:435.40px;top:331.28px;font-size:6px;color:#444;">份</div>
<div class="a" style="left:530.30px;top:328.40px;width:22.40px;height:10.90px;background:#78c86a;border-radius:2px"></div>
<div class="t" style="left:535.50px;top:331.28px;font-size:6px;color:#fff;-webkit-text-stroke-width:0.12px">在售</div>
<div class="t" style="left:625.30px;top:331.28px;font-size:6px;color:#333;">-</div>
<div class="t" style="left:767.80px;top:331.28px;font-size:6px;color:#33629c;">编辑</div>
<div class="a" style="left:788.50px;top:331.30px;width:0.60px;height:5.00px;background:#e0e0e0;"></div>
<div class="t" style="left:796.20px;top:331.28px;font-size:6px;color:#33629c;">停售</div>
<div class="a" style="left:816.50px;top:331.30px;width:0.60px;height:5.00px;background:#e0e0e0;"></div>
<div class="t" style="left:824.40px;top:331.28px;font-size:6px;color:#33629c;">删除</div>
<div class="a" style="left:82.70px;top:349.60px;width:840.00px;height:31.60px;background:#ffffff;"></div>
<div class="a" style="left:109.30px;top:361.80px;width:6.60px;height:7.20px;background:#fff;border:0.6px solid #e2e2e2"></div>
<div class="a" style="left:126.20px;top:355.60px;width:19.30px;height:19.30px;background:#eff0f2;border-radius:1px"></div>
<svg class="a" style="left:130.50px;top:359.40px;" width="11" height="12" viewBox="0 0 11 12"><path d="M3 4.4V3a2.5 2.5 0 0 1 5 0v1.4" fill="none" stroke="#d3d5d9" stroke-width="1.3"/><rect x="1" y="4.2" width="9" height="7" fill="#d3d5d9"/></svg>
<div class="t" style="left:197.30px;top:362.88px;font-size:6px;color:#33629c;">组合A单商品</div>
<div class="t" style="left:316.20px;top:362.88px;font-size:6px;color:#333;letter-spacing:-0.2px">zhAdsp9976</div>
<div class="t" style="left:435.40px;top:362.88px;font-size:6px;color:#444;">份</div>
<div class="a" style="left:530.30px;top:360.00px;width:22.40px;height:10.90px;background:#78c86a;border-radius:2px"></div>
<div class="t" style="left:535.50px;top:362.88px;font-size:6px;color:#fff;-webkit-text-stroke-width:0.12px">在售</div>
<div class="t" style="left:625.30px;top:362.88px;font-size:6px;color:#333;">-</div>
<div class="t" style="left:767.80px;top:362.88px;font-size:6px;color:#33629c;">编辑</div>
<div class="a" style="left:788.50px;top:362.90px;width:0.60px;height:5.00px;background:#e0e0e0;"></div>
<div class="t" style="left:796.20px;top:362.88px;font-size:6px;color:#33629c;">停售</div>
<div class="a" style="left:816.50px;top:362.90px;width:0.60px;height:5.00px;background:#e0e0e0;"></div>
<div class="t" style="left:824.40px;top:362.88px;font-size:6px;color:#33629c;">删除</div>
<div class="a" style="left:82.70px;top:381.20px;width:840.00px;height:31.60px;background:#f5f7fa;"></div>
<div class="a" style="left:109.30px;top:393.40px;width:6.60px;height:7.20px;background:#fff;border:0.6px solid #e2e2e2"></div>
<div class="a" style="left:126.20px;top:387.20px;width:19.30px;height:19.30px;background:#eff0f2;border-radius:1px"></div>
<svg class="a" style="left:130.50px;top:391.00px;" width="11" height="12" viewBox="0 0 11 12"><path d="M3 4.4V3a2.5 2.5 0 0 1 5 0v1.4" fill="none" stroke="#d3d5d9" stroke-width="1.3"/><rect x="1" y="4.2" width="9" height="7" fill="#d3d5d9"/></svg>
<div class="t" style="left:197.30px;top:394.48px;font-size:6px;color:#33629c;">营养餐盒</div>
<div class="t" style="left:316.20px;top:394.48px;font-size:6px;color:#333;letter-spacing:-0.2px">yych2895</div>
<div class="t" style="left:435.40px;top:394.48px;font-size:6px;color:#444;">份</div>
<div class="a" style="left:530.30px;top:391.60px;width:22.40px;height:10.90px;background:#78c86a;border-radius:2px"></div>
<div class="t" style="left:535.50px;top:394.48px;font-size:6px;color:#fff;-webkit-text-stroke-width:0.12px">在售</div>
<div class="t" style="left:625.30px;top:394.48px;font-size:6px;color:#333;">-</div>
<div class="t" style="left:767.80px;top:394.48px;font-size:6px;color:#33629c;">编辑</div>
<div class="a" style="left:788.50px;top:394.50px;width:0.60px;height:5.00px;background:#e0e0e0;"></div>
<div class="t" style="left:796.20px;top:394.48px;font-size:6px;color:#33629c;">停售</div>
<div class="a" style="left:816.50px;top:394.50px;width:0.60px;height:5.00px;background:#e0e0e0;"></div>
<div class="t" style="left:824.40px;top:394.48px;font-size:6px;color:#33629c;">删除</div>
<div class="a" style="left:82.70px;top:412.80px;width:840.00px;height:31.60px;background:#ffffff;"></div>
<div class="a" style="left:109.30px;top:425.00px;width:6.60px;height:7.20px;background:#fff;border:0.6px solid #e2e2e2"></div>
<div class="a" style="left:126.20px;top:418.80px;width:19.30px;height:19.30px;background:#eff0f2;border-radius:1px"></div>
<svg class="a" style="left:130.50px;top:422.60px;" width="11" height="12" viewBox="0 0 11 12"><path d="M3 4.4V3a2.5 2.5 0 0 1 5 0v1.4" fill="none" stroke="#d3d5d9" stroke-width="1.3"/><rect x="1" y="4.2" width="9" height="7" fill="#d3d5d9"/></svg>
<div class="t" style="left:197.30px;top:426.08px;font-size:6px;color:#33629c;">组合（多单位）</div>
<svg class="a" style="left:240.50px;top:425.10px;" width="7" height="7" viewBox="0 0 7 7"><circle cx="3.5" cy="3.5" r="2.9" fill="none" stroke="#d9875a" stroke-width="0.6"/><path d="M3.5 1.9v2" stroke="#d9875a" stroke-width="0.6"/><circle cx="3.5" cy="5" r="0.35" fill="#d9875a"/></svg>
<div class="t" style="left:316.20px;top:426.08px;font-size:6px;color:#333;letter-spacing:-0.2px">zhddw1408</div>
<div class="t" style="left:435.40px;top:426.08px;font-size:6px;color:#444;">份</div>
<div class="a" style="left:530.30px;top:423.20px;width:22.40px;height:10.90px;background:#78c86a;border-radius:2px"></div>
<div class="t" style="left:535.50px;top:426.08px;font-size:6px;color:#fff;-webkit-text-stroke-width:0.12px">在售</div>
<div class="t" style="left:625.30px;top:426.08px;font-size:6px;color:#333;">-</div>
<div class="t" style="left:767.80px;top:426.08px;font-size:6px;color:#33629c;">编辑</div>
<div class="a" style="left:788.50px;top:426.10px;width:0.60px;height:5.00px;background:#e0e0e0;"></div>
<div class="t" style="left:796.20px;top:426.08px;font-size:6px;color:#33629c;">停售</div>
<div class="a" style="left:816.50px;top:426.10px;width:0.60px;height:5.00px;background:#e0e0e0;"></div>
<div class="t" style="left:824.40px;top:426.08px;font-size:6px;color:#33629c;">删除</div>
<div class="a" style="left:82.70px;top:444.40px;width:840.00px;height:31.60px;background:#f5f7fa;"></div>
<div class="a" style="left:109.30px;top:456.60px;width:6.60px;height:7.20px;background:#fff;border:0.6px solid #e2e2e2"></div>
<div class="a" style="left:126.20px;top:450.40px;width:19.30px;height:19.30px;background:#eff0f2;border-radius:1px"></div>
<svg class="a" style="left:130.50px;top:454.20px;" width="11" height="12" viewBox="0 0 11 12"><path d="M3 4.4V3a2.5 2.5 0 0 1 5 0v1.4" fill="none" stroke="#d3d5d9" stroke-width="1.3"/><rect x="1" y="4.2" width="9" height="7" fill="#d3d5d9"/></svg>
<div class="t" style="left:197.30px;top:457.68px;font-size:6px;color:#33629c;">水果礼盒</div>
<div class="t" style="left:316.20px;top:457.68px;font-size:6px;color:#333;letter-spacing:-0.2px">sglh8049</div>
<div class="t" style="left:435.40px;top:457.68px;font-size:6px;color:#444;">份</div>
<div class="a" style="left:530.30px;top:454.80px;width:22.40px;height:10.90px;background:#78c86a;border-radius:2px"></div>
<div class="t" style="left:535.50px;top:457.68px;font-size:6px;color:#fff;-webkit-text-stroke-width:0.12px">在售</div>
<div class="t" style="left:625.30px;top:457.68px;font-size:6px;color:#333;">-</div>
<div class="t" style="left:767.80px;top:457.68px;font-size:6px;color:#33629c;">编辑</div>
<div class="a" style="left:788.50px;top:457.70px;width:0.60px;height:5.00px;background:#e0e0e0;"></div>
<div class="t" style="left:796.20px;top:457.68px;font-size:6px;color:#33629c;">停售</div>
<div class="a" style="left:816.50px;top:457.70px;width:0.60px;height:5.00px;background:#e0e0e0;"></div>
<div class="t" style="left:824.40px;top:457.68px;font-size:6px;color:#33629c;">删除</div>
<div class="a" style="left:102.00px;top:135.50px;width:0.80px;height:340.50px;background:#e6e8ec;"></div>
<div class="a" style="left:764.40px;top:135.50px;width:0.80px;height:340.50px;background:#e6e8ec;"></div>
<div class="t" style="left:660.40px;top:484.88px;font-size:6px;color:#444;">共34条记录, 每页</div>
<div class="a" style="left:705px;top:480px;width:30.5px;height:15px;border:0.5px solid #f0f0f0"></div>
<div class="t" style="left:711.40px;top:484.88px;font-size:6px;color:#555;-webkit-text-stroke-width:0">10</div>
<svg class="a" style="left:728.50px;top:485.50px;" width="6" height="4" viewBox="0 0 6 4"><path d="M.8 .8l2.2 2.2 2.2-2.2" fill="none" stroke="#555" stroke-width="0.7"/></svg>
<div class="t" style="left:737.00px;top:484.88px;font-size:6px;color:#444;">条</div>
<div class="a" style="left:755.30px;top:480.00px;width:14.40px;height:15.00px;background:#eeeeee;"></div>
<svg class="a" style="left:760.50px;top:485.00px;" width="4" height="5" viewBox="0 0 4 5"><path d="M3 .8L1.2 2.5 3 4.2" fill="none" stroke="#bbb" stroke-width="0.6"/></svg>
<div class="a" style="left:775.20px;top:480.00px;width:14.70px;height:15.00px;background:#0b5fe6;"></div>
<div class="t" style="left:780.70px;top:484.88px;font-size:6px;color:#fff;-webkit-text-stroke-width:0">1</div>
<div class="a" style="left:794.7px;top:480px;width:14.8px;height:15px;border:0.5px solid #f0f0f0"></div>
<div class="t" style="left:800.20px;top:484.88px;font-size:6px;color:#555;-webkit-text-stroke-width:0">2</div>
<div class="a" style="left:814.3px;top:480px;width:14.8px;height:15px;border:0.5px solid #f0f0f0"></div>
<div class="t" style="left:819.80px;top:484.88px;font-size:6px;color:#555;-webkit-text-stroke-width:0">3</div>
<div class="a" style="left:834.2px;top:480px;width:14.8px;height:15px;border:0.5px solid #f0f0f0"></div>
<div class="t" style="left:839.70px;top:484.88px;font-size:6px;color:#555;-webkit-text-stroke-width:0">4</div>
<div class="a" style="left:853.7px;top:480px;width:14.8px;height:15px;border:0.5px solid #f0f0f0"></div>
<svg class="a" style="left:859.00px;top:485.00px;" width="4" height="5" viewBox="0 0 4 5"><path d="M1 .8L2.8 2.5 1 4.2" fill="none" stroke="#666" stroke-width="0.6"/></svg>
<div class="a" style="left:876.5px;top:480px;width:19px;height:15px;border:0.5px solid #f0f0f0"></div>
<div class="t" style="left:882.00px;top:484.88px;font-size:6px;color:#555;-webkit-text-stroke-width:0">1</div>
<div class="a" style="left:895.60px;top:480.00px;width:16.80px;height:15.00px;background:#f3f3f3;"></div>
<div class="t" style="left:897.50px;top:484.88px;font-size:6px;color:#333;">/4页</div>
<div class="a" style="left:914.30px;top:335.40px;width:23.70px;height:20.40px;background:#dce7f8;border-radius:3px 0 0 3px"></div>
<svg class="a" style="left:922.20px;top:337.60px;" width="8" height="8.5" viewBox="0 0 8 8.5"><path d="M4 .5L7.5 2.3 4 4.1 .5 2.3z" fill="#a9c6f0" stroke="#2f66c4" stroke-width="0.9"/><path d="M.5 4.2L4 6 7.5 4.2M.5 6.1L4 7.9 7.5 6.1" fill="none" stroke="#2f66c4" stroke-width="0.9"/></svg>
<div class="t" style="left:920.30px;top:349.95px;font-size:5.6px;color:#3a5f9a;">任务</div>
<div class="a" style="left:922.80px;top:405.20px;width:15.20px;height:50.50px;background:#0b5fe6;"></div>
<svg class="a" style="left:926.40px;top:409.80px;" width="8" height="8.5" viewBox="0 0 8 8.5"><path d="M4 .7a3.4 3.3 0 1 1-1.6 6.2L.8 7.8l.5-1.6A3.4 3.3 0 0 1 4 .7z" fill="none" stroke="#fff" stroke-width="0.8"/><circle cx="2.8" cy="4" r=".4" fill="#fff"/><circle cx="5.2" cy="4" r=".4" fill="#fff"/></svg>
<div class="t" style="left:927.10px;top:422.58px;font-size:6px;color:#fff;">联</div>
<div class="t" style="left:927.10px;top:430.65px;font-size:6px;color:#fff;">系</div>
<div class="t" style="left:927.10px;top:438.72px;font-size:6px;color:#fff;">客</div>
<div class="t" style="left:927.10px;top:446.79px;font-size:6px;color:#fff;">服</div>
</div></body></html>
